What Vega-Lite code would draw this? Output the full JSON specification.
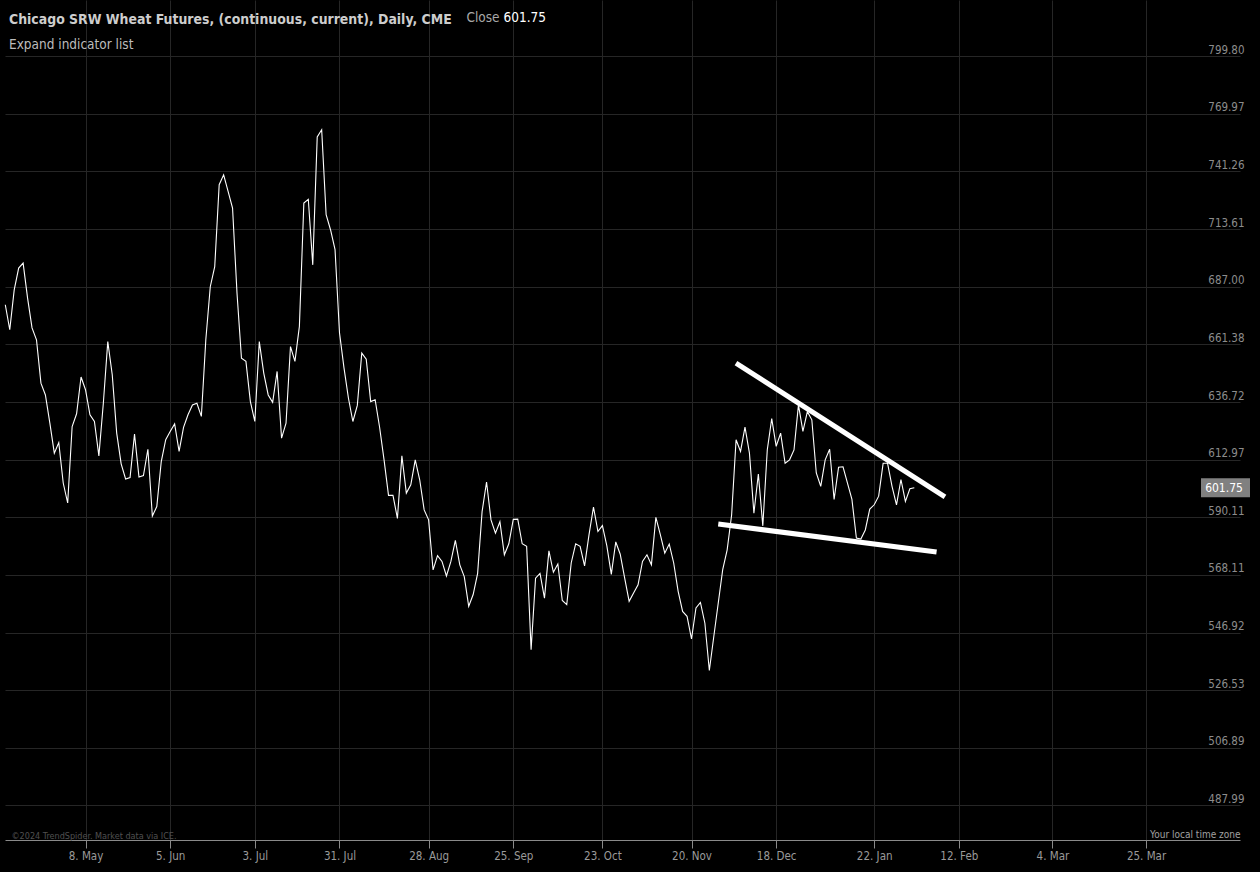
{
  "$schema": "https://vega.github.io/schema/vega-lite/v6.json",
  "width": 1235,
  "height": 840,
  "autosize": {"type": "none"},
  "padding": {"left": 5, "top": 0, "right": 20, "bottom": 32},
  "background": "#000000",
  "title": {
    "text": "Chicago SRW Wheat Futures, (continuous, current), Daily, CME",
    "subtitle": "Expand indicator list",
    "anchor": "start",
    "frame": "group",
    "orient": "top",
    "offset": -51,
    "dx": 4,
    "font": "DejaVu Sans Condensed, DejaVu Sans",
    "fontSize": 13.9,
    "fontWeight": "bold",
    "color": "#cdcdcd",
    "subtitleFont": "DejaVu Sans Condensed, DejaVu Sans",
    "subtitleFontSize": 13.5,
    "subtitleColor": "#bcbcbc",
    "subtitlePadding": 11
  },
  "config": {
    "view": {"stroke": null},
    "font": "DejaVu Sans Condensed, DejaVu Sans"
  },
  "datasets": {
    "wheat": [
      {"date": "2023-04-12", "close": 678.9}, {"date": "2023-04-13", "close": 667.8}, {"date": "2023-04-14", "close": 685.6},
      {"date": "2023-04-17", "close": 695.5}, {"date": "2023-04-18", "close": 697.8}, {"date": "2023-04-19", "close": 681.9},
      {"date": "2023-04-20", "close": 668.6}, {"date": "2023-04-21", "close": 663.4}, {"date": "2023-04-24", "close": 644.7},
      {"date": "2023-04-25", "close": 639.7}, {"date": "2023-04-26", "close": 627.9}, {"date": "2023-04-27", "close": 615.6},
      {"date": "2023-04-28", "close": 619.9}, {"date": "2023-05-01", "close": 603.6}, {"date": "2023-05-02", "close": 595.7},
      {"date": "2023-05-03", "close": 626.5}, {"date": "2023-05-04", "close": 631.8}, {"date": "2023-05-05", "close": 647.3},
      {"date": "2023-05-08", "close": 641.9}, {"date": "2023-05-09", "close": 631.4}, {"date": "2023-05-10", "close": 628.6},
      {"date": "2023-05-11", "close": 614.5}, {"date": "2023-05-12", "close": 636.2}, {"date": "2023-05-15", "close": 662.6},
      {"date": "2023-05-16", "close": 648.3}, {"date": "2023-05-17", "close": 623.8}, {"date": "2023-05-18", "close": 611.3},
      {"date": "2023-05-19", "close": 605.2}, {"date": "2023-05-22", "close": 605.8}, {"date": "2023-05-23", "close": 623.4},
      {"date": "2023-05-24", "close": 606.0}, {"date": "2023-05-25", "close": 606.6}, {"date": "2023-05-26", "close": 617.2},
      {"date": "2023-05-30", "close": 590.6}, {"date": "2023-05-31", "close": 594.3}, {"date": "2023-06-01", "close": 612.2},
      {"date": "2023-06-02", "close": 621.1}, {"date": "2023-06-05", "close": 624.5}, {"date": "2023-06-06", "close": 627.6},
      {"date": "2023-06-07", "close": 616.3}, {"date": "2023-06-08", "close": 626.2}, {"date": "2023-06-09", "close": 631.4},
      {"date": "2023-06-12", "close": 635.5}, {"date": "2023-06-13", "close": 636.2}, {"date": "2023-06-14", "close": 630.7},
      {"date": "2023-06-15", "close": 663.4}, {"date": "2023-06-16", "close": 687.0}, {"date": "2023-06-20", "close": 696.2},
      {"date": "2023-06-21", "close": 734.8}, {"date": "2023-06-22", "close": 739.6}, {"date": "2023-06-23", "close": 731.6},
      {"date": "2023-06-26", "close": 723.6}, {"date": "2023-06-27", "close": 684.1}, {"date": "2023-06-28", "close": 655.4},
      {"date": "2023-06-29", "close": 654.0}, {"date": "2023-06-30", "close": 636.9}, {"date": "2023-07-03", "close": 628.6},
      {"date": "2023-07-05", "close": 662.6}, {"date": "2023-07-06", "close": 649.0}, {"date": "2023-07-07", "close": 639.7},
      {"date": "2023-07-10", "close": 636.6}, {"date": "2023-07-11", "close": 649.7}, {"date": "2023-07-12", "close": 621.7},
      {"date": "2023-07-13", "close": 627.9}, {"date": "2023-07-14", "close": 660.4}, {"date": "2023-07-17", "close": 654.0},
      {"date": "2023-07-18", "close": 669.3}, {"date": "2023-07-19", "close": 726.0}, {"date": "2023-07-20", "close": 727.8},
      {"date": "2023-07-21", "close": 697.0}, {"date": "2023-07-24", "close": 758.3}, {"date": "2023-07-25", "close": 761.9},
      {"date": "2023-07-26", "close": 720.4}, {"date": "2023-07-27", "close": 713.2}, {"date": "2023-07-28", "close": 704.0},
      {"date": "2023-07-31", "close": 666.5}, {"date": "2023-08-01", "close": 651.3}, {"date": "2023-08-02", "close": 638.4},
      {"date": "2023-08-03", "close": 628.6}, {"date": "2023-08-04", "close": 635.3}, {"date": "2023-08-07", "close": 657.6},
      {"date": "2023-08-08", "close": 655.0}, {"date": "2023-08-09", "close": 636.9}, {"date": "2023-08-10", "close": 637.7},
      {"date": "2023-08-11", "close": 626.2}, {"date": "2023-08-14", "close": 612.9}, {"date": "2023-08-15", "close": 598.7},
      {"date": "2023-08-16", "close": 598.7}, {"date": "2023-08-17", "close": 589.7}, {"date": "2023-08-18", "close": 614.5},
      {"date": "2023-08-21", "close": 599.6}, {"date": "2023-08-22", "close": 602.9}, {"date": "2023-08-23", "close": 612.9},
      {"date": "2023-08-24", "close": 604.9}, {"date": "2023-08-25", "close": 593.0}, {"date": "2023-08-28", "close": 589.1},
      {"date": "2023-08-29", "close": 570.0}, {"date": "2023-08-30", "close": 575.4}, {"date": "2023-08-31", "close": 573.2},
      {"date": "2023-09-01", "close": 567.7}, {"date": "2023-09-05", "close": 573.2}, {"date": "2023-09-06", "close": 581.2},
      {"date": "2023-09-07", "close": 571.9}, {"date": "2023-09-08", "close": 567.5}, {"date": "2023-09-11", "close": 556.5},
      {"date": "2023-09-12", "close": 560.8}, {"date": "2023-09-13", "close": 568.7}, {"date": "2023-09-14", "close": 592.3},
      {"date": "2023-09-15", "close": 604.0}, {"date": "2023-09-18", "close": 589.1}, {"date": "2023-09-19", "close": 584.0},
      {"date": "2023-09-20", "close": 588.4}, {"date": "2023-09-21", "close": 575.7}, {"date": "2023-09-22", "close": 579.9},
      {"date": "2023-09-25", "close": 589.3}, {"date": "2023-09-26", "close": 589.4}, {"date": "2023-09-27", "close": 579.9},
      {"date": "2023-09-28", "close": 578.9}, {"date": "2023-09-29", "close": 540.8}, {"date": "2023-10-02", "close": 566.9},
      {"date": "2023-10-03", "close": 568.7}, {"date": "2023-10-04", "close": 559.5}, {"date": "2023-10-05", "close": 577.2},
      {"date": "2023-10-06", "close": 569.1}, {"date": "2023-10-09", "close": 572.2}, {"date": "2023-10-10", "close": 558.6},
      {"date": "2023-10-11", "close": 557.1}, {"date": "2023-10-12", "close": 572.6}, {"date": "2023-10-13", "close": 579.9},
      {"date": "2023-10-16", "close": 578.9}, {"date": "2023-10-17", "close": 571.5}, {"date": "2023-10-18", "close": 583.4},
      {"date": "2023-10-19", "close": 594.1}, {"date": "2023-10-20", "close": 584.6}, {"date": "2023-10-23", "close": 586.9},
      {"date": "2023-10-24", "close": 579.1}, {"date": "2023-10-25", "close": 568.3}, {"date": "2023-10-26", "close": 580.6},
      {"date": "2023-10-27", "close": 575.9}, {"date": "2023-10-30", "close": 566.9}, {"date": "2023-10-31", "close": 558.3},
      {"date": "2023-11-01", "close": 561.4}, {"date": "2023-11-02", "close": 564.4}, {"date": "2023-11-03", "close": 573.2},
      {"date": "2023-11-06", "close": 575.7}, {"date": "2023-11-07", "close": 571.9}, {"date": "2023-11-08", "close": 590.1},
      {"date": "2023-11-09", "close": 583.4}, {"date": "2023-11-10", "close": 576.3}, {"date": "2023-11-13", "close": 579.8},
      {"date": "2023-11-14", "close": 572.6}, {"date": "2023-11-15", "close": 562.0}, {"date": "2023-11-16", "close": 554.6},
      {"date": "2023-11-17", "close": 552.8}, {"date": "2023-11-20", "close": 544.6}, {"date": "2023-11-21", "close": 555.9},
      {"date": "2023-11-22", "close": 557.9}, {"date": "2023-11-24", "close": 550.3}, {"date": "2023-11-27", "close": 533.4},
      {"date": "2023-11-28", "close": 545.5}, {"date": "2023-11-29", "close": 557.7}, {"date": "2023-11-30", "close": 570.1},
      {"date": "2023-12-01", "close": 577.6}, {"date": "2023-12-04", "close": 591.0}, {"date": "2023-12-05", "close": 621.1},
      {"date": "2023-12-06", "close": 616.3}, {"date": "2023-12-07", "close": 626.3}, {"date": "2023-12-08", "close": 615.6},
      {"date": "2023-12-11", "close": 591.7}, {"date": "2023-12-12", "close": 607.2}, {"date": "2023-12-13", "close": 586.8},
      {"date": "2023-12-14", "close": 616.9}, {"date": "2023-12-15", "close": 629.8}, {"date": "2023-12-18", "close": 618.4},
      {"date": "2023-12-19", "close": 623.8}, {"date": "2023-12-20", "close": 611.5}, {"date": "2023-12-21", "close": 612.9},
      {"date": "2023-12-22", "close": 616.9}, {"date": "2023-12-26", "close": 635.5}, {"date": "2023-12-27", "close": 624.5},
      {"date": "2023-12-28", "close": 632.7}, {"date": "2023-12-29", "close": 629.3}, {"date": "2024-01-02", "close": 607.6},
      {"date": "2024-01-03", "close": 602.3}, {"date": "2024-01-04", "close": 612.9}, {"date": "2024-01-05", "close": 617.2},
      {"date": "2024-01-08", "close": 597.1}, {"date": "2024-01-09", "close": 609.9}, {"date": "2024-01-10", "close": 610.1},
      {"date": "2024-01-11", "close": 603.6}, {"date": "2024-01-12", "close": 597.1}, {"date": "2024-01-16", "close": 582.1},
      {"date": "2024-01-17", "close": 581.7}, {"date": "2024-01-18", "close": 585.2}, {"date": "2024-01-19", "close": 593.3},
      {"date": "2024-01-22", "close": 595.0}, {"date": "2024-01-23", "close": 598.4}, {"date": "2024-01-24", "close": 611.5},
      {"date": "2024-01-25", "close": 611.5}, {"date": "2024-01-26", "close": 602.3}, {"date": "2024-01-29", "close": 595.0},
      {"date": "2024-01-30", "close": 605.0}, {"date": "2024-01-31", "close": 596.3}, {"date": "2024-02-01", "close": 601.3},
      {"date": "2024-02-02", "close": 601.75}
    ],
    "trend": [
      {"line": "upper", "n": 164.98, "close": 653.3},
      {"line": "upper", "n": 211.88, "close": 598.1},
      {"line": "lower", "n": 161.0, "close": 587.5},
      {"line": "lower", "n": 210.0, "close": 576.75}
    ],
    "last": [{"close": 601.75}]
  },
  "layer": [
    {
      "data": {"name": "wheat"},
      "transform": [{"window": [{"op": "row_number", "as": "n"}], "sort": [{"field": "date"}]}],
      "mark": {"type": "line", "color": "#ffffff", "strokeWidth": 1.1},
      "encoding": {
        "x": {
          "field": "n", "type": "quantitative",
          "scale": {"domain": [0.933, 278.09], "nice": false, "zero": false},
          "axis": {
            "orient": "bottom",
            "values": [19, 38, 57, 76, 96, 115, 135, 155, 174, 196, 215, 236, 257],
            "labelExpr": "['8. May','5. Jun','3. Jul','31. Jul','28. Aug','25. Sep','23. Oct','20. Nov','18. Dec','22. Jan','12. Feb','4. Mar','25. Mar'][indexof([19,38,57,76,96,115,135,155,174,196,215,236,257], datum.value)]",
            "grid": true, "gridColor": "#262626", "gridWidth": 1,
            "domain": true, "domainColor": "#8a8a8a", "domainWidth": 1,
            "ticks": true, "tickColor": "#8a8a8a", "tickSize": 8, "tickWidth": 1,
            "labelColor": "#9a9a9a", "labelFontSize": 11.5, "labelPadding": 2,
            "labelOverlap": false, "labelFlush": false,
            "title": "©2024 TrendSpider. Market data via ICE.",
            "titleX": 6, "titleY": -2, "titleAlign": "left", "titleAnchor": "start",
            "titleBaseline": "alphabetic", "titleFontSize": 9, "titleFontWeight": "normal", "titleColor": "#505050"
          }
        },
        "y": {
          "field": "close", "type": "quantitative",
          "scale": {"type": "log", "domain": [477.0, 830.0], "nice": false, "zero": false},
          "axis": {
            "orient": "right",
            "values": [487.99, 506.89, 526.53, 546.92, 568.11, 590.11, 612.97, 636.72, 661.38, 687.0, 713.61, 741.26, 769.97, 799.8],
            "format": ".2f",
            "grid": true, "gridColor": "#262626", "gridWidth": 1,
            "domain": false, "ticks": false, "tickSize": 0,
            "labelAlign": "right", "labelBaseline": "bottom", "labelPadding": 4, "labelOffset": -1,
            "labelColor": "#8c8c8c", "labelFontSize": 11.5, "labelOverlap": false, "labelFlush": false,
            "title": "Your local time zone",
            "titleAngle": 0, "titleX": 0, "titleY": 837, "titleAlign": "right", "titleAnchor": "end",
            "titleBaseline": "alphabetic", "titleFontSize": 10, "titleFontWeight": "normal", "titleColor": "#a0a0a0"
          }
        }
      }
    },
    {
      "data": {"name": "trend"},
      "mark": {"type": "line", "color": "#ffffff", "strokeWidth": 5, "strokeCap": "butt"},
      "encoding": {
        "x": {
          "field": "n", "type": "quantitative",
          "axis": {
            "orient": "top", "labels": false, "ticks": false, "domain": false, "grid": false,
            "title": "Close", "titleX": 461, "titleY": 21, "titleAlign": "left", "titleAnchor": "start",
            "titleBaseline": "alphabetic", "titleColor": "#a8a8a8", "titleFontSize": 13.5, "titleFontWeight": "normal"
          }
        },
        "y": {"field": "close", "type": "quantitative", "axis": null},
        "detail": {"field": "line"}
      }
    },
    {
      "data": {"name": "last"},
      "mark": {"type": "point", "shape": "M-1,-0.3878H1V0.3878H-1Z", "size": 2401, "filled": true, "color": "#808080", "opacity": 1, "xOffset": -14.5},
      "encoding": {
        "x": {"datum": 278.09, "type": "quantitative", "axis": null},
        "y": {
          "field": "close", "type": "quantitative",
          "axis": {
            "orient": "left", "labels": false, "ticks": false, "domain": false, "grid": false,
            "title": "601.75", "titleAngle": 0, "titleX": 498, "titleY": 21, "titleAlign": "left", "titleAnchor": "start",
            "titleBaseline": "alphabetic", "titleColor": "#ffffff", "titleFontSize": 13.5, "titleFontWeight": "normal"
          }
        }
      }
    },
    {
      "data": {"name": "last"},
      "mark": {"type": "text", "color": "#ffffff", "fontSize": 12, "align": "center", "baseline": "middle", "xOffset": -16},
      "encoding": {
        "x": {"datum": 278.09, "type": "quantitative", "axis": null},
        "y": {"field": "close", "type": "quantitative", "axis": null},
        "text": {"field": "close", "type": "quantitative", "format": ".2f"}
      }
    }
  ],
  "resolve": {"axis": {"x": "independent", "y": "independent"}}
}
